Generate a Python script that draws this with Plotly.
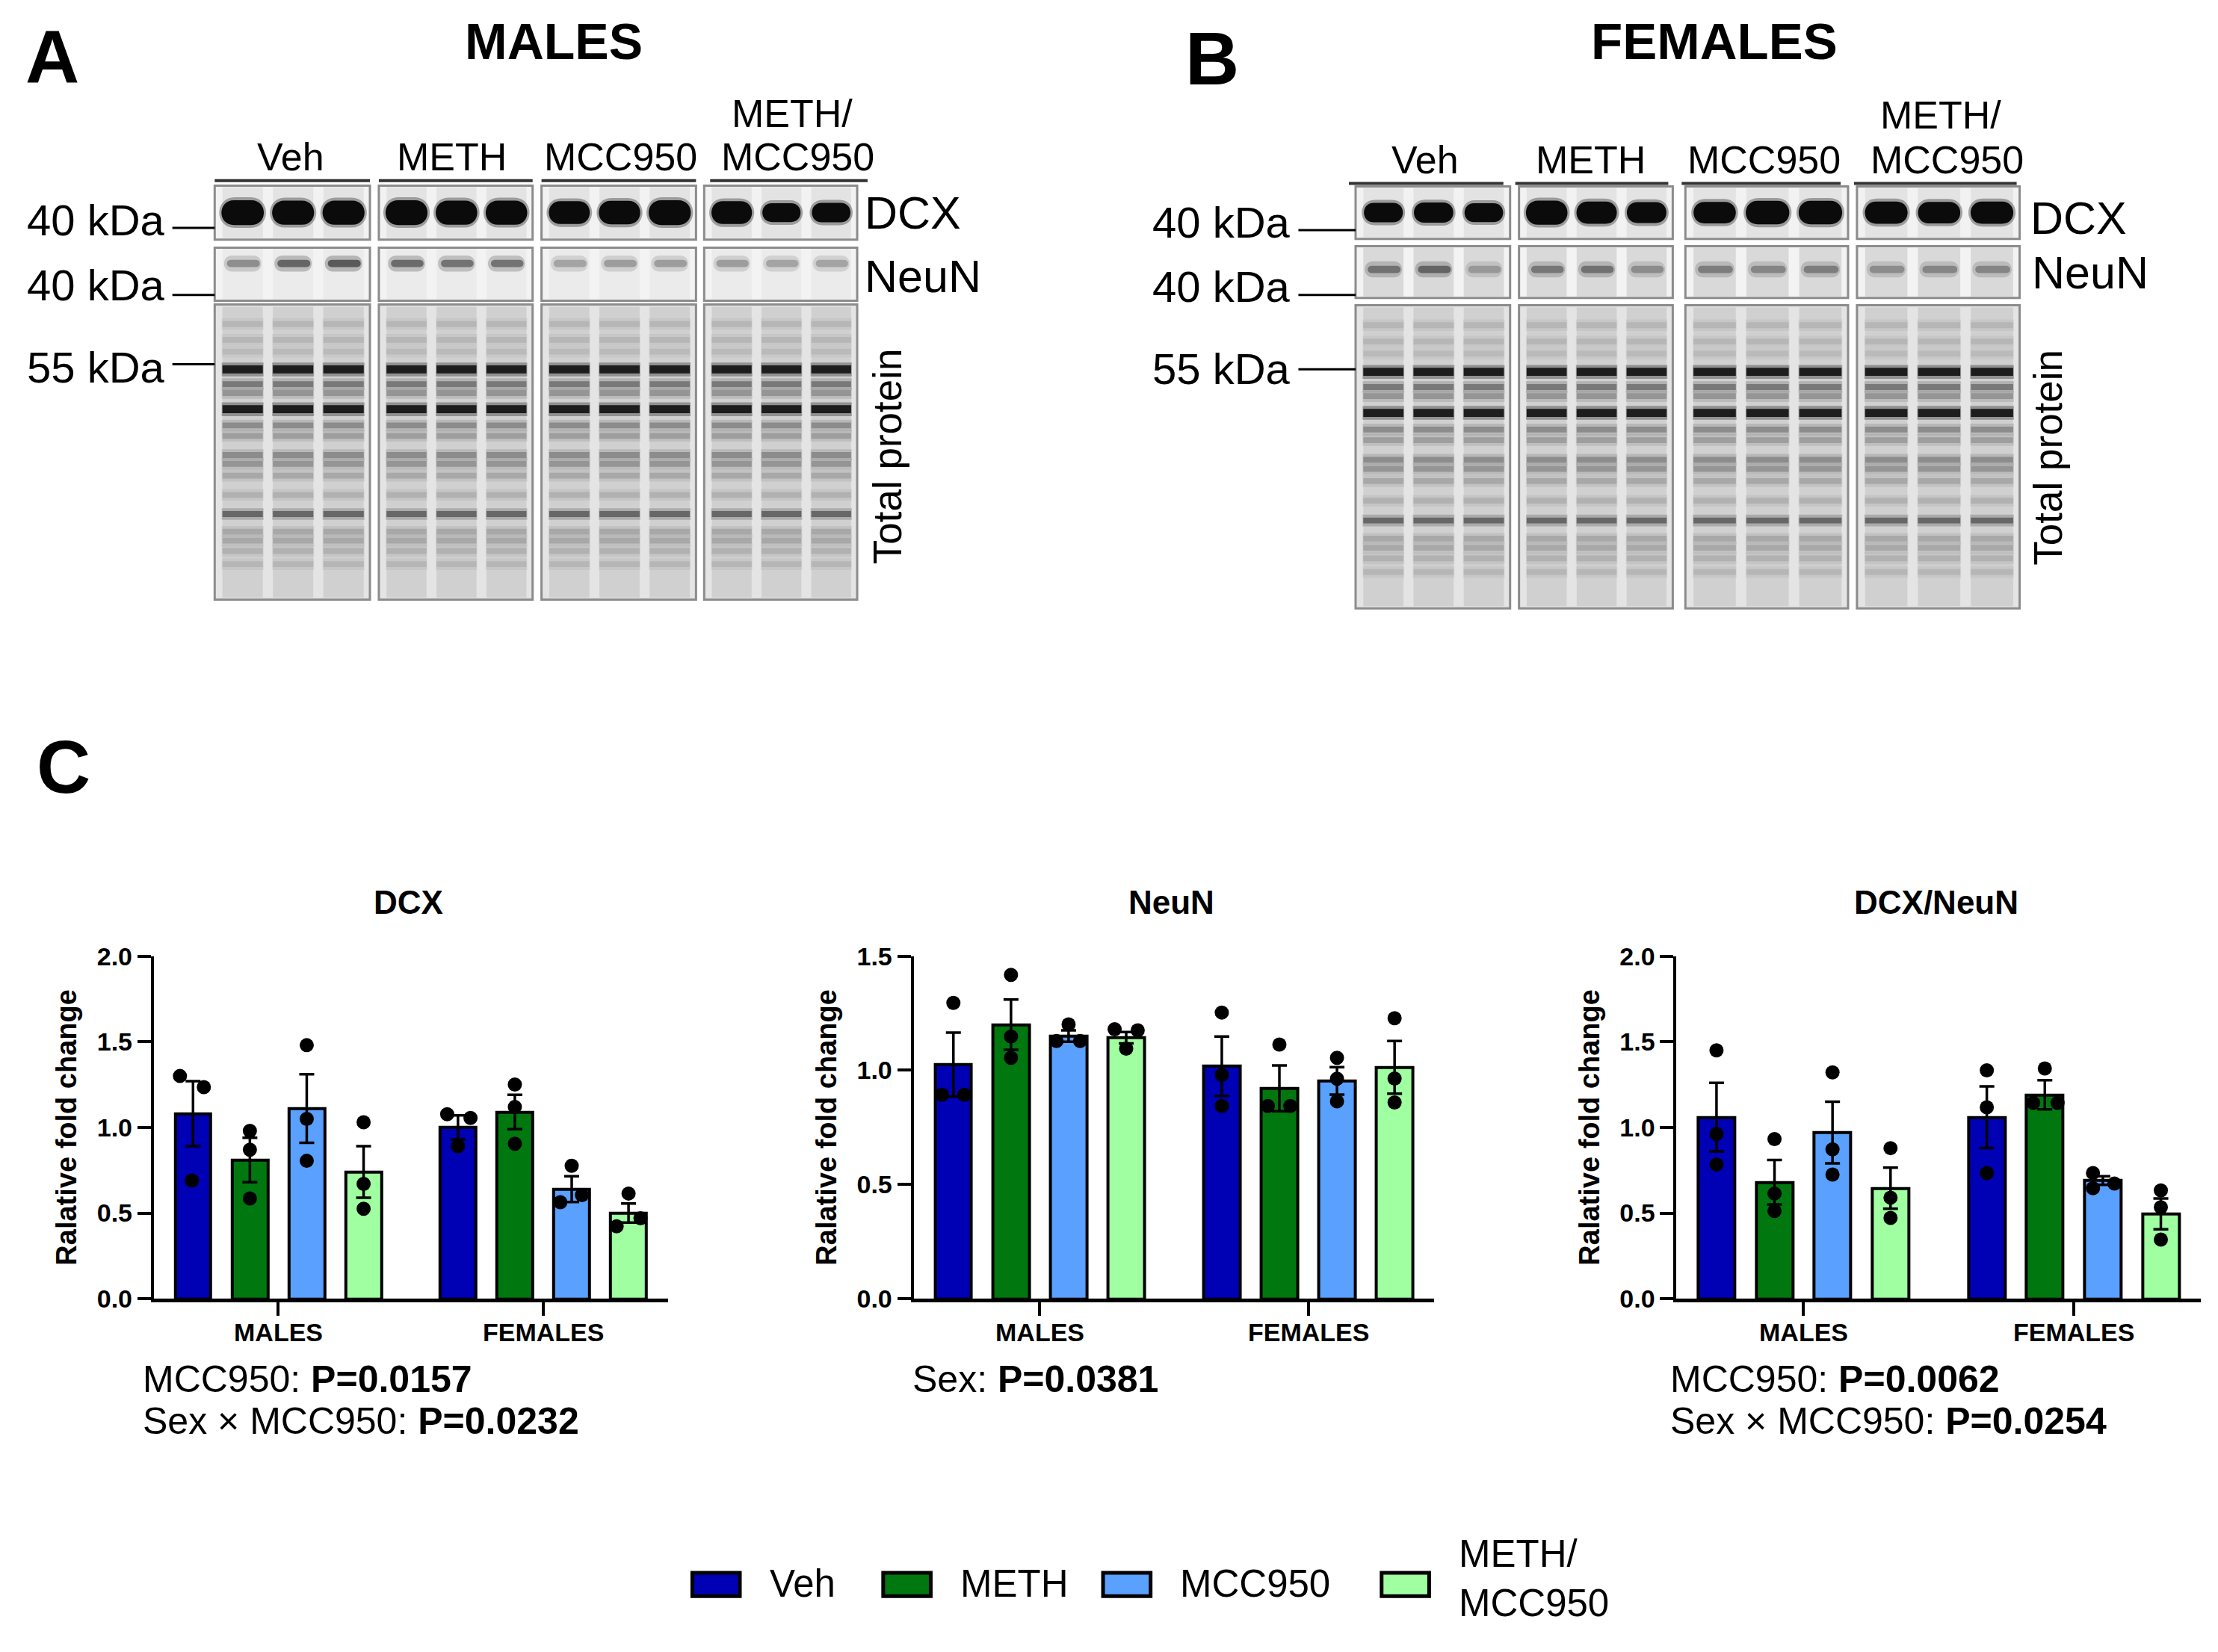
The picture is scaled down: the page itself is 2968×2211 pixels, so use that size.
import plotly.graph_objects as go

# reference canvas in px; figure is drawn a bit smaller to leave room for the page margin
REF_W, REF_H = 2968, 2211
FIG_W, FIG_H = 2950, 2195
FONT = "Liberation Sans, Arial, sans-serif"


def px(x):
    return x / REF_W


def py(y):
    return 1 - y / REF_H


# ---------------- data ----------------
treatments = ["Veh", "METH", "MCC950", "METH/<br>MCC950"]
sexes = ["MALES", "FEMALES"]
colors = ["#0000B4", "#00780F", "#5AA0FF", "#A0FFA0"]

# order: males Veh, METH, MCC950, METH/MCC950, then females in the same order
dcx_mean = [1.08, 0.81, 1.11, 0.74, 1.00, 1.09, 0.64, 0.50]
dcx_sem = [0.19, 0.13, 0.20, 0.15, 0.07, 0.10, 0.075, 0.056]
dcx_points = [[1.30, 1.235, 0.69], [0.98, 0.87, 0.585], [1.48, 1.05, 0.805], [1.03, 0.67, 0.525],
              [1.077, 1.055, 0.89], [1.25, 1.12, 0.905], [0.776, 0.563, 0.605], [0.614, 0.423, 0.47]]

neun_mean = [1.025, 1.20, 1.15, 1.143, 1.018, 0.921, 0.954, 1.013]
neun_sem = [0.14, 0.11, 0.025, 0.025, 0.13, 0.10, 0.06, 0.115]
neun_points = [[1.295, 0.893, 0.893], [1.418, 1.148, 1.055], [1.201, 1.128, 1.128], [1.18, 1.175, 1.095],
               [1.253, 0.98, 0.844], [1.113, 0.844, 0.844], [1.055, 0.963, 0.864], [1.228, 0.964, 0.859]]

ratio_mean = [1.06, 0.68, 0.97, 0.645, 1.06, 1.19, 0.69, 0.495]
ratio_sem = [0.20, 0.13, 0.18, 0.12, 0.18, 0.085, 0.025, 0.09]
ratio_points = [[1.45, 0.961, 0.783], [0.932, 0.614, 0.512], [1.321, 0.872, 0.725], [0.879, 0.59, 0.472],
                [1.333, 1.117, 0.734], [1.344, 1.143, 1.143], [0.734, 0.672, 0.645], [0.632, 0.534, 0.345]]

stats_dcx = ["MCC950: <b>P=0.0157</b>", "Sex × MCC950: <b>P=0.0232</b>"]
stats_neun = ["Sex: <b>P=0.0381</b>"]
stats_ratio = ["MCC950: <b>P=0.0062</b>", "Sex × MCC950: <b>P=0.0254</b>"]

# blot band strengths per lane (3 lanes x 4 groups)
dcx_band_m = [1.0, 0.95, 0.95, 1.0, 0.95, 0.95, 0.85, 0.9, 1.0, 0.85, 0.55, 0.6]
neun_band_m = [0.3, 0.6, 0.7, 0.55, 0.5, 0.5, 0.15, 0.2, 0.2, 0.2, 0.15, 0.15]
dcx_band_f = [0.6, 0.65, 0.55, 0.95, 0.8, 0.7, 0.75, 0.9, 0.9, 0.8, 0.75, 0.8]
neun_band_f = [0.45, 0.55, 0.15, 0.4, 0.45, 0.25, 0.35, 0.3, 0.35, 0.25, 0.3, 0.3]
# total protein stain: band position (fraction of box height) and darkness
tp_pos = [0.066, 0.12, 0.16, 0.22, 0.27, 0.30, 0.355, 0.41, 0.445, 0.51, 0.54, 0.58,
          0.645, 0.71, 0.77, 0.80, 0.835, 0.88]
tp_dark = [0.12, 0.12, 0.1, 0.95, 0.45, 0.3, 0.95, 0.35, 0.25, 0.35, 0.3, 0.2,
           0.15, 0.55, 0.2, 0.2, 0.15, 0.12]

# ---------------- layout helpers ----------------
group_gap = 4.66
xpos = [i + group_gap * s for s in range(2) for i in range(4)]
bar_w = 0.63
# point spread inside each bar
jit_dcx = [[-0.23, 0.19, -0.02], [0, 0, 0], [0, 0, 0], [0, 0, 0],
           [-0.19, 0.22, 0], [0, 0, 0], [0, -0.2, 0.18], [0, -0.21, 0.21]]
jit_neun = [[0, -0.2, 0.19], [0, 0, 0], [0, -0.21, 0.2], [-0.2, 0.2, 0],
            [0, 0, 0], [0, -0.2, 0.19], [0, 0, 0], [0, 0, 0]]
jit_ratio = [[0, 0, 0], [0, 0, 0], [0, 0, 0], [0, 0, 0],
             [0, 0, 0], [0, -0.2, 0.22], [-0.17, 0.2, -0.17], [0, 0, 0]]

fig = go.Figure()
shapes = []
annotations = []


def text(x, y, s, size, bold=False, xanchor="center", yanchor="middle", angle=0, color="black"):
    annotations.append(dict(
        x=px(x), y=py(y), xref="paper", yref="paper", text=f"<b>{s}</b>" if bold else s,
        showarrow=False, xanchor=xanchor, yanchor=yanchor, textangle=angle,
        font=dict(family=FONT, size=size, color=color), align="left"))


def line(x0, y0, x1, y1, width=3, color="black"):
    shapes.append(dict(type="line", xref="paper", yref="paper", x0=px(x0), y0=py(y0),
                       x1=px(x1), y1=py(y1), line=dict(color=color, width=width)))


def rect(x0, y0, x1, y1, fill, line_color=None, width=0):
    shapes.append(dict(type="rect", xref="paper", yref="paper", x0=px(x0), y0=py(y0),
                       x1=px(x1), y1=py(y1), fillcolor=fill,
                       line=dict(color=line_color or fill, width=width)))


def band(x0, x1, yc, h, color):
    r = h / 2
    k = 1.333 * r
    p = (f"M {px(x0 + r)},{py(yc - r)} L {px(x1 - r)},{py(yc - r)} "
         f"C {px(x1 - r + k)},{py(yc - r)} {px(x1 - r + k)},{py(yc + r)} {px(x1 - r)},{py(yc + r)} "
         f"L {px(x0 + r)},{py(yc + r)} "
         f"C {px(x0 + r - k)},{py(yc + r)} {px(x0 + r - k)},{py(yc - r)} {px(x0 + r)},{py(yc - r)} Z")
    shapes.append(dict(type="path", xref="paper", yref="paper", path=p,
                       fillcolor=color, line=dict(width=0)))


def blot(boxes, rows, dcx_int, neun_int, neun_rel, neun_bg):
    (d0, d1), (n0, n1), (t0, t1) = rows
    for g, (x0, x1) in enumerate(boxes):
        w = x1 - x0
        lanes = [(x0 + w * (0.05 + 0.325 * j), x0 + w * (0.31 + 0.325 * j)) for j in range(3)]
        # DCX strip
        rect(x0, d0, x1, d1, "#f2f2f2", "#8c8c8c", 3)
        for j, (l0, l1) in enumerate(lanes):
            rect(l0, d0 + 2, l1, d1 - 2, "#e3e3e3")
            s = dcx_int[3 * g + j]
            lw = (l1 - l0) * (0.85 + 0.2 * s)
            lc = (l0 + l1) / 2
            yc = d0 + 0.5 * (d1 - d0)
            hh = 16 + 18 * s
            band(lc - lw / 2 - 3, lc + lw / 2 + 3, yc, hh + 8, "rgba(20,20,20,0.35)")
            band(lc - lw / 2, lc + lw / 2, yc, hh, "#0b0b0b")
        # NeuN strip
        rect(x0, n0, x1, n1, "#f3f3f3", "#8c8c8c", 3)
        for j, (l0, l1) in enumerate(lanes):
            rect(l0, n0 + 2, l1, n1 - 2, neun_bg)
            s = neun_int[3 * g + j]
            yc = n0 + neun_rel * (n1 - n0)
            band(l0 + 2, l1 - 2, yc, 22, f"rgba(60,60,60,{0.1 + 0.3 * s:.2f})")
            band(l0 + 6, l1 - 4, yc, 10, f"rgba(30,30,30,{0.15 + 0.65 * s:.2f})")
        # total protein
        rect(x0, t0, x1, t1, "#e4e4e4", "#8c8c8c", 3)
        h = t1 - t0
        for j, (l0, l1) in enumerate(lanes):
            rect(l0, t0 + 3, l1, t1 - 3, "#d0d0d0")
            for p, d in zip(tp_pos, tp_dark):
                lev = int(205 - 185 * d)
                th = 11 if d > 0.7 else 8
                yc = t0 + p * h
                rect(l0 - 1, yc - th / 2 - 4, l1 + 1, yc + th / 2 + 4,
                     f"rgba({lev},{lev},{lev},0.35)")
                rect(l0, yc - th / 2, l1, yc + th / 2, f"rgb({lev},{lev},{lev})")


# ---------------- panel A / B (blots) ----------------
A_boxes = [(281, 490), (502, 709), (721, 929), (940, 1146)]
A_rows = [(227, 301), (312, 385), (390, 795)]
B_boxes = [(1817, 2025), (2037, 2244), (2261, 2480), (2492, 2711)]
B_rows = [(228, 300), (310, 381), (391, 807)]

blot(A_boxes, A_rows, dcx_band_m, neun_band_m, 0.3, "#ebebeb")
blot(B_boxes, B_rows, dcx_band_f, neun_band_f, 0.45, "#d9d9d9")

text(62, 50, "A", 100, bold=True)
text(1624, 52, "B", 100, bold=True)
text(77, 1024, "C", 100, bold=True)
text(737, 29, "MALES", 68, bold=True)
text(2300, 29, "FEMALES", 69, bold=True)

# group labels above each blot
A_lab_x = [383, 600, 828, 1058, 1066]
B_lab_x = [1911, 2133, 2367, 2605, 2613]
A_ul = [(281, 490), (502, 709), (721, 929), (948, 1160)]
B_ul = [(1808, 2016), (2032, 2238), (2256, 2470), (2488, 2707)]
for lab_x, ul_x, ylab, ytop, yul in ((A_lab_x, A_ul, 188, 128, 220), (B_lab_x, B_ul, 192, 130, 224)):
    for g in range(4):
        line(ul_x[g][0], yul, ul_x[g][1], yul, width=4, color="#333333")
        if g < 3:
            text(lab_x[g], ylab, treatments[g], 52)
        else:
            text(lab_x[3], ytop, "METH/", 52)
            text(lab_x[4], ylab, "MCC950", 52)

# molecular weight markers
for lx, ly, tx, ty in (((224, 281), (285, 377, 472), 216, (274, 363, 476)),
                       ((1740, 1817), (288, 377, 479), 1731, (277, 365, 478))):
    for k, lab in enumerate(["40 kDa", "40 kDa", "55 kDa"]):
        line(lx[0], ly[k], lx[1], ly[k], width=3)
        text(tx, ty[k], lab, 58, xanchor="right")

text(1154, 264, "DCX", 61, xanchor="left")
text(1154, 352, "NeuN", 61, xanchor="left")
text(1187, 598, "Total protein", 53, angle=-90)
text(2724, 272, "DCX", 61, xanchor="left")
text(2726, 346, "NeuN", 61, xanchor="left")
text(2749, 600, "Total protein", 53, angle=-90)

# ---------------- panel C (bar charts) ----------------
charts = [
    ("DCX", dcx_mean, dcx_sem, dcx_points, jit_dcx, 2.0, (199, 891), stats_dcx, 182),
    ("NeuN", neun_mean, neun_sem, neun_points, jit_neun, 1.5, (1222, 1923), stats_neun, 1218),
    ("DCX/NeuN", ratio_mean, ratio_sem, ratio_points, jit_ratio, 2.0, (2249, 2955), stats_ratio, 2239),
]
y_top, y_bot = 1284, 1754

for c, (title, mean, sem, pts, jit, ymax, (xl, xr), stats, sx) in enumerate(charts):
    xa = "x" if c == 0 else f"x{c + 1}"
    ya = "y" if c == 0 else f"y{c + 1}"
    for t in range(4):
        idx = [t, t + 4]
        fig.add_trace(go.Bar(
            x=[xpos[i] for i in idx], y=[mean[i] for i in idx], width=bar_w,
            marker=dict(color=colors[t], line=dict(color="black", width=4)),
            error_y=dict(type="data", array=[sem[i] for i in idx], color="black",
                         thickness=3.5, width=10),
            xaxis=xa, yaxis=ya, showlegend=False, hoverinfo="skip"))
    px_list, py_list = [], []
    for i in range(8):
        for v, o in zip(pts[i], jit[i]):
            px_list.append(xpos[i] + o)
            py_list.append(v)
    fig.add_trace(go.Scatter(
        x=px_list, y=py_list, mode="markers", cliponaxis=False,
        marker=dict(color="black", size=19), xaxis=xa, yaxis=ya,
        showlegend=False, hoverinfo="skip"))

    key = "" if c == 0 else str(c + 1)
    fig.update_layout(**{
        f"xaxis{key}": dict(
            domain=[px(xl), px(xr)], range=[-0.69, 8.35], anchor=ya,
            tickvals=[1.5, 1.5 + group_gap], ticktext=["", ""],
            ticks="outside", ticklen=18, tickwidth=4, tickcolor="black",
            showline=True, linewidth=5, linecolor="black",
            showgrid=False, zeroline=False),
        f"yaxis{key}": dict(
            domain=[py(y_bot), py(y_top)], range=[0, ymax], anchor=xa,
            tickvals=[v * 0.5 for v in range(int(ymax / 0.5) + 1)], tickformat=".1f",
            ticks="outside", ticklen=18, tickwidth=4, tickcolor="black",
            showline=True, linewidth=4, linecolor="black",
            showgrid=False, zeroline=False,
            tickfont=dict(family=FONT, size=34, color="black", weight="bold"),
            title=dict(text="Ralative fold change", standoff=16,
                       font=dict(family=FONT, size=38, color="black", weight="bold"))),
    })
    # group labels under the axis
    unit = (xr - xl) / (8.35 + 0.69)
    for s in range(2):
        gx = xl + (1.5 + group_gap * s + 0.69) * unit
        text(gx, 1800, sexes[s], 34, bold=True)
    text(xl + (xr - xl) * 0.495, 1210, title, 44, bold=True)
    for k, s in enumerate(stats):
        text(sx, 1865 + 57 * k, s, 50, xanchor="left")

# ---------------- legend ----------------
leg_x = [924, 1181, 1477, 1852]
for t in range(4):
    rect(leg_x[t], 2130, leg_x[t] + 64, 2162, colors[t], "black", 5)
    text(leg_x[t] + 102, 2145 if t < 3 else 2138, treatments[t], 51, xanchor="left")

fig.update_layout(
    width=FIG_W, height=FIG_H, autosize=False,
    margin=dict(l=0, r=0, t=0, b=0),
    paper_bgcolor="white", plot_bgcolor="white",
    barmode="overlay", bargap=0,
    shapes=shapes, annotations=annotations,
    font=dict(family=FONT, color="black"),
)

fig.write_html("out.html")
